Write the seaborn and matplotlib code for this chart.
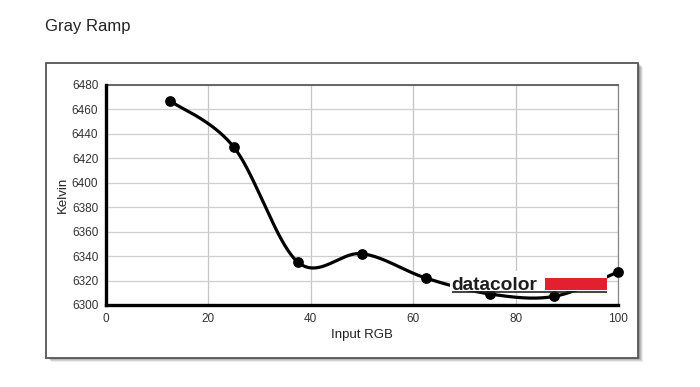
import numpy as np
import pandas as pd
import matplotlib
matplotlib.use("Agg")
import matplotlib.pyplot as plt
from matplotlib.patches import Rectangle
import seaborn as sns

# ---- data ----
input_rgb = [12.5, 25, 37.5, 50, 62.5, 75, 87.5, 100]
kelvin = [6467, 6429, 6335, 6342, 6322, 6309, 6307, 6327]
x_ticks = [0, 20, 40, 60, 80, 100]
y_ticks = [6300, 6320, 6340, 6360, 6380, 6400, 6420, 6440, 6460, 6480]
title = "Gray Ramp"
x_label = "Input RGB"
y_label = "Kelvin"


def spline_curve(xs, ys, n=40):
    """Catmull-Rom spline through the points, drawn as cubic bezier segments."""
    P = np.column_stack([np.asarray(xs, float), np.asarray(ys, float)])
    m = len(P)
    ext = np.vstack([P[0], P, P[-1]])
    out = [P[0]]
    t = np.linspace(0, 1, n)[1:][:, None]
    for i in range(m - 1):
        p0 = ext[i + 1]
        p3 = ext[i + 2]
        c1 = p0 + (ext[i + 2] - ext[i]) / 6.0
        c2 = p3 - (ext[i + 3] - ext[i + 1]) / 6.0
        seg = (1 - t) ** 3 * p0 + 3 * (1 - t) ** 2 * t * c1 + 3 * (1 - t) * t ** 2 * c2 + t ** 3 * p3
        out.extend(seg)
    out = np.array(out)
    return out[:, 0], out[:, 1]


sns.set_theme(style="white")
plt.rcParams["font.family"] = ["Liberation Sans", "DejaVu Sans"]

W, H = 700, 387
fig = plt.figure(figsize=(7, 3.87), dpi=100)
fig.patch.set_facecolor("white")

def fx(px):
    return px / W

def fy(py):
    return 1 - py / H

# drop shadow of the frame
for k, a in enumerate([0.08, 0.10, 0.12, 0.15]):
    off = 4 - k
    fig.patches.append(Rectangle((fx(46 + off + 1), fy(358 + off)), fx(592), 295 / H,
                                 transform=fig.transFigure, facecolor="#000000",
                                 alpha=a, edgecolor="none", zorder=0))
# frame
fig.patches.append(Rectangle((fx(46), fy(358)), fx(592), 295 / H,
                             transform=fig.transFigure, facecolor="white",
                             edgecolor="#555555", linewidth=1.3, zorder=1))

fig.text(fx(45), fy(27), title, fontsize=12, color="#222222", va="center", ha="left")

ax = fig.add_axes([fx(106), fy(305), fx(512), 220 / H])
ax.set_zorder(2)
ax.set_facecolor("none")

sx, sy = spline_curve(input_rgb, kelvin)
curve = pd.DataFrame({"x": sx, "y": sy})
pts = pd.DataFrame({"Input RGB": input_rgb, "Kelvin": kelvin})
sns.lineplot(data=curve, x="x", y="y", sort=False, estimator=None, ax=ax,
             color="black", linewidth=2.3, zorder=3)
sns.scatterplot(data=pts, x="Input RGB", y="Kelvin", ax=ax, color="black",
                s=60, edgecolor="black", linewidth=0, zorder=4, clip_on=False)

ax.set_xlim(0, 100)
ax.set_ylim(6300, 6480)
ax.set_xticks(x_ticks)
ax.set_yticks(y_ticks)
ax.set_xticklabels([str(v) for v in x_ticks])
ax.set_yticklabels([str(v) for v in y_ticks])
ax.grid(True, which="major", axis="y", color="#cfcfcf", linewidth=0.9)
ax.grid(True, which="major", axis="x", color="#c4c4c4", linewidth=0.9)
ax.set_axisbelow(True)

ax.tick_params(axis="both", which="major", labelsize=8.5, colors="#333333",
               length=4, width=0.8, direction="out", pad=1.5)
ax.tick_params(axis="x", color="#999999")
ax.tick_params(axis="y", color="#999999")
for lab in ax.get_xticklabels() + ax.get_yticklabels():
    lab.set_color("#333333")

ax.set_xlabel(x_label, fontsize=9.5, color="#222222", labelpad=3)
ax.set_ylabel(y_label, fontsize=9.5, color="#222222", labelpad=2)

for side in ["left", "bottom"]:
    ax.spines[side].set_color("black")
    ax.spines[side].set_linewidth(2.4)
    ax.spines[side].set_zorder(5)
ax.spines["top"].set_color("#666666")
ax.spines["top"].set_linewidth(1.4)
ax.spines["right"].set_color("#888888")
ax.spines["right"].set_linewidth(0.9)
for s in ax.spines.values():
    s.set_visible(True)

# datacolor watermark (overlay)
logo_ax = fig.add_axes([0, 0, 1, 1])
logo_ax.set_zorder(6)
logo_ax.set_xlim(0, W)
logo_ax.set_ylim(H, 0)
logo_ax.axis("off")
logo_ax.add_patch(Rectangle((450, 271), 157, 20, facecolor="white", edgecolor="none"))
logo_ax.add_patch(Rectangle((545, 278), 62, 12, facecolor="#e2202f", edgecolor="none"))
logo_ax.plot([452, 607], [292.2, 292.2], color="#222222", linewidth=1.2,
             solid_capstyle="butt")
logo_ax.text(451, 289.5, "datacolor", fontsize=13.8, fontweight="bold",
             color="#1e1e1e", ha="left", va="baseline")

fig.savefig("out.png", dpi=100, facecolor="white")
